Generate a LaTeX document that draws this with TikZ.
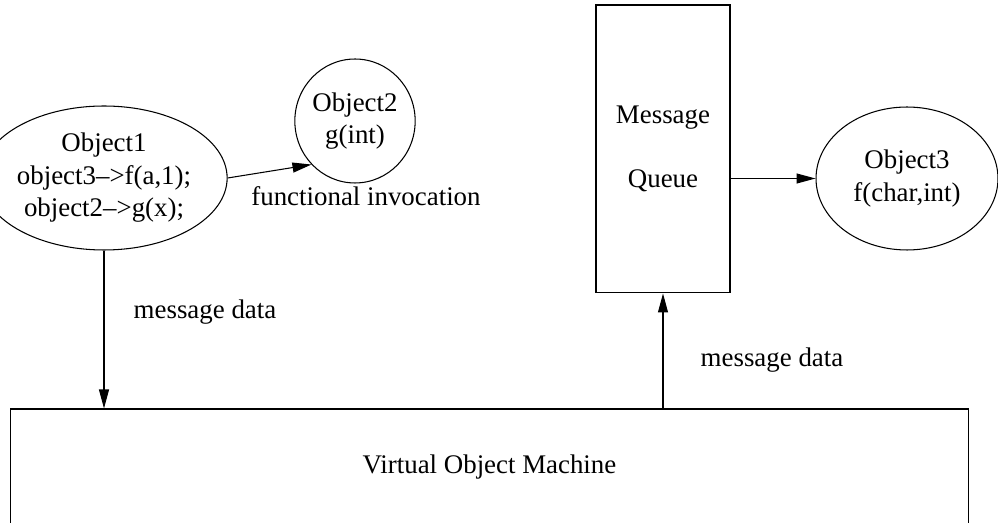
\documentclass[tikz,border=0pt]{standalone}
\usepackage{fontspec}
\setmainfont{Liberation Serif}
\usepackage{tikz}
\usetikzlibrary{shapes.geometric, arrows.meta, positioning, calc}
\tikzset{
  objnode/.style={ellipse, draw, inner sep=0pt, align=center,
    line width=0.6pt},
  boxnode/.style={rectangle, draw, inner sep=0pt, align=center,
    line width=0.6pt},
  lbl/.style={inner sep=0pt},
  arrow/.style={-{Triangle[length=0.38cm, width=0.2cm]}, line width=0.6pt}
}

\begin{document}
\begin{tikzpicture}[x=0.02cm, y=-0.02cm,
    font=\fontsize{15.3}{18.5}\selectfont]
  \useasboundingbox (0,0) rectangle (998,523);
  \clip (0,0) rectangle (998,523);

  % Objects
  \node[objnode, minimum width=3.96cm, minimum height=2.88cm] (obj1) at (104,178)
    {Object1\\object3\textendash>f(a,1);\\object2\textendash>g(x);};
  \node[objnode, minimum width=2.28cm, minimum height=2.48cm] (obj2) at (355,121)
    {Object2\\g(int)};
  \node[objnode, minimum width=3.64cm, minimum height=2.86cm] (obj3) at (907,178.5)
    {Object3\\f(char,int)};

  % Queue and machine
  \node[boxnode, minimum width=2.68cm, minimum height=5.76cm] (queue) at (663,149)
    {Message\\[18pt]Queue};
  \node[boxnode, minimum width=19.18cm, minimum height=2.32cm] (vom) at (489.5,467)
    {Virtual Object Machine};

  % Links
  \draw[arrow] (obj1.east) -- (obj2.225);
  \draw[arrow] (obj1.south) -- (obj1.south |- vom.north);
  \draw[arrow] (queue.south |- vom.north) -- (queue.south);
  \draw[arrow] (obj3.west -| queue.east) -- (obj3.west);

  % Labels
  \node[lbl] (invoke) at (366,196) {functional invocation};
  \node[lbl] (msgdown) at (205,312) {message data};
  \node[lbl] (msgup) at (772,360) {message data};
\end{tikzpicture}
\end{document}
